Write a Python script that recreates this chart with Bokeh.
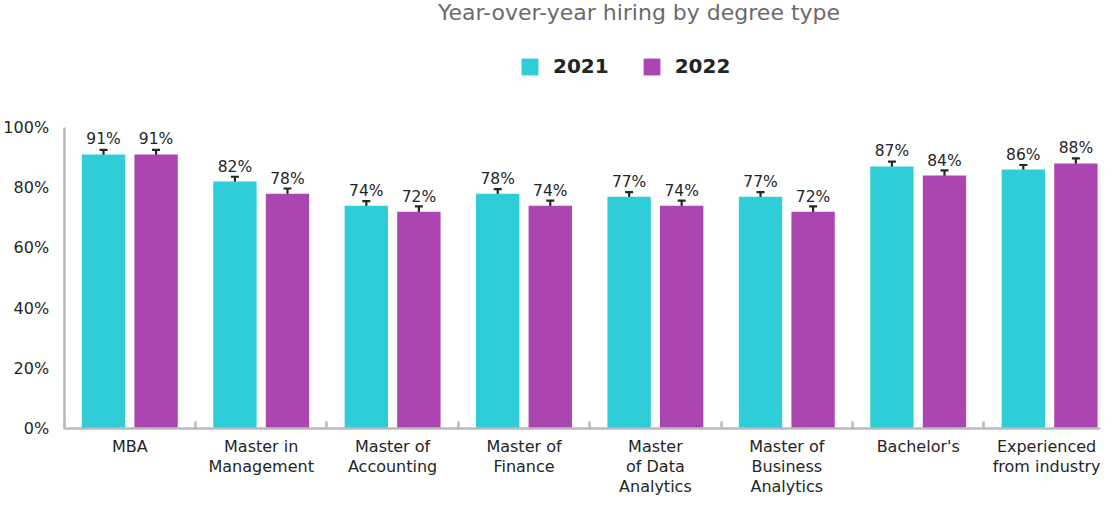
from bokeh.plotting import figure
from bokeh.models import (Range1d, FixedTicker, PrintfTickFormatter, LinearAxis,
                          ColumnDataSource, Whisker, Legend, LegendItem, Label)
from bokeh.embed import file_html
from bokeh.resources import INLINE
from bokeh.core.properties import value

categories = ["MBA", "Master in\nManagement", "Master of\nAccounting", "Master of\nFinance",
              "Master\nof Data\nAnalytics", "Master of\nBusiness\nAnalytics", "Bachelor's",
              "Experienced\nfrom industry"]
series_names = ["2021", "2022"]
values_2021 = [91, 82, 74, 78, 77, 77, 87, 86]
values_2022 = [91, 78, 72, 74, 74, 72, 84, 88]
err_2021 = [1.5, 1.6, 1.5, 1.5, 1.5, 1.5, 1.6, 1.5]
err_2022 = [1.5, 1.7, 1.8, 1.7, 1.7, 1.8, 1.7, 1.7]
y_ticks = [0, 20, 40, 60, 80, 100]
title_text = "Year-over-year hiring by degree type"

C1 = "#2ECDD7"
C2 = "#AB45B0"
FONT = "DejaVu Sans"
AXIS_COL = "#b9babe"
TXT = "#1f2626"
ERR_COL = "#222828"

n = len(categories)
W, H = 1100, 496
# pixel geometry of the plotting area
X0, XS = 63.6, 131.4      # px of x=0, px per category
Y0, YS = 428.3, 3.015     # px of y=0, px per percent

p = figure(width=W, height=H, output_backend="svg", toolbar_location=None,
           x_range=Range1d(-X0 / XS, (W - X0) / XS),
           y_range=Range1d(-(H - Y0) / YS, Y0 / YS),
           min_border_left=0, min_border_right=0, min_border_top=0, min_border_bottom=0,
           x_axis_type=None, y_axis_type=None)
p.title.visible = False
p.outline_line_color = None
p.xgrid.visible = False
p.background_fill_color = "white"
p.border_fill_color = "white"

centers = [i + 0.5 for i in range(n)]
off = 0.2
bw = 0.33

def make_src(vals, errs, shift):
    xs = [c + shift for c in centers]
    return ColumnDataSource(dict(x=xs, top=vals, lo=[v - e for v, e in zip(vals, errs)],
                                 hi=[v + e for v, e in zip(vals, errs)],
                                 lab=[f"{v}%" for v in vals]))

s1 = make_src(values_2021, err_2021, -off)
s2 = make_src(values_2022, err_2022, off)

# inward y ticks (drawn under bars) via grid with bounds
p.ygrid.ticker = FixedTicker(ticks=y_ticks)
p.ygrid.bounds = (0, 27 / XS)
p.ygrid.grid_line_color = AXIS_COL
p.ygrid.grid_line_width = 2.5

yaxis = LinearAxis(ticker=FixedTicker(ticks=y_ticks), formatter=PrintfTickFormatter(format="%d%%"),
                   bounds=(0, 100), fixed_location=0, axis_line_color=AXIS_COL, axis_line_width=2.5,
                   major_tick_line_color=None, major_tick_in=0, major_tick_out=0,
                   minor_tick_line_color=None,
                   major_label_standoff=15, major_label_text_font=FONT,
                   major_label_text_font_size="16px", major_label_text_color=TXT)
p.add_layout(yaxis, "left")

xaxis = LinearAxis(ticker=FixedTicker(ticks=centers, minor_ticks=list(range(n + 1))),
                   major_label_overrides={c: lab for c, lab in zip(centers, categories)},
                   bounds=(0, n), fixed_location=0, axis_line_color=AXIS_COL, axis_line_width=2.5,
                   major_tick_line_color=None, major_tick_in=0, major_tick_out=0,
                   minor_tick_line_color=AXIS_COL, minor_tick_line_width=2.5,
                   minor_tick_in=7, minor_tick_out=0,
                   major_label_standoff=8, major_label_text_font=FONT,
                   major_label_text_font_size="16px", major_label_text_color=TXT,
                   major_label_text_line_height=1.05)
p.add_layout(xaxis, "below")

r1 = p.vbar(x="x", top="top", width=bw, source=s1, fill_color=C1, line_color=None)
r2 = p.vbar(x="x", top="top", width=bw, source=s2, fill_color=C2, line_color=None)

for s in (s1, s2):
    w = Whisker(base="x", lower="lo", upper="hi", source=s, line_color=ERR_COL, line_width=2.2)
    for h in (w.upper_head, w.lower_head):
        h.size = 8
        h.line_width = 2.2
        h.line_color = ERR_COL
    p.add_layout(w)
    p.text(x="x", y="top", text="lab", source=s, text_align="center", text_baseline="alphabetic",
           y_offset=-15, text_font=value(FONT), text_font_size="15.5px", text_color=TXT)

# title
p.add_layout(Label(x=(638.5 - X0) / XS, y=(Y0 - 12) / YS, text=title_text, text_align="center",
                   text_baseline="alphabetic", text_font=FONT, text_font_size="22px",
                   text_color="#6b6b6b"))

legend = Legend(items=[LegendItem(label=series_names[0], renderers=[r1]),
                       LegendItem(label=series_names[1], renderers=[r2])],
                orientation="horizontal", location=(519, H - 78),
                glyph_width=21, glyph_height=21, label_height=21, label_standoff=13, spacing=32,
                padding=0, margin=0, border_line_alpha=0, background_fill_alpha=0,
                label_text_font=FONT, label_text_font_size="20px", label_text_font_style="bold",
                label_text_color=TXT, label_text_baseline="middle")
p.add_layout(legend, "center")

open("out.html", "w").write(file_html(p, INLINE))
